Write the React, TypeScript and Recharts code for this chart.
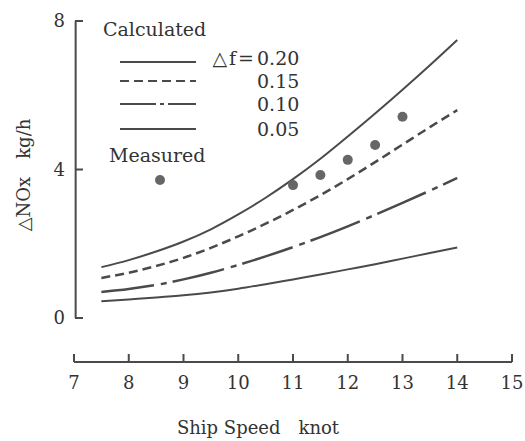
import React from 'react';
import {
  ComposedChart,
  Line,
  Scatter,
  XAxis,
  YAxis,
  ReferenceLine,
  Legend,
} from 'recharts';

const speeds = [7.5, 8, 8.5, 9, 9.5, 10, 10.5, 11, 11.5, 12, 12.5, 13, 13.5, 14];
const df020 = [1.37, 1.56, 1.79, 2.06, 2.39, 2.79, 3.24, 3.74, 4.29, 4.89, 5.51, 6.15, 6.81, 7.49];
const df015 = [1.08, 1.22, 1.4, 1.62, 1.89, 2.2, 2.54, 2.91, 3.31, 3.74, 4.2, 4.67, 5.14, 5.6];
const df010 = [0.7, 0.78, 0.89, 1.04, 1.22, 1.43, 1.66, 1.91, 2.18, 2.47, 2.78, 3.1, 3.43, 3.77];
const df005 = [0.45, 0.5, 0.55, 0.61, 0.69, 0.79, 0.91, 1.04, 1.17, 1.31, 1.45, 1.6, 1.75, 1.9];

const measuredSpeed = [11, 11.5, 12, 12.5, 13];
const measuredNox = [3.58, 3.85, 4.26, 4.66, 5.42];

const xTicks = [7, 8, 9, 10, 11, 12, 13, 14, 15];
const yTicks = [0, 4, 8];

const calcData = speeds.map((s, i) => ({
  x: s,
  f20: df020[i],
  f15: df015[i],
  f10: df010[i],
  f05: df005[i],
}));
const measuredData = measuredSpeed.map((s, i) => ({ x: s, y: measuredNox[i] }));

const INK = '#4a4a4a';
const TEXT = '#333';
const FONT = "'DejaVu Serif', 'Liberation Serif', serif";
const DASH15 = '9 5';
const DASH10 = '53 7 6 6';

const XTick = (props: any) => {
  const { x, y, payload } = props;
  return (
    <g>
      <line x1={x} y1={y} x2={x} y2={y - 8} stroke={INK} strokeWidth={2} />
      <text x={x} y={y + 27} textAnchor="middle" fontSize={18} fill={TEXT} style={{ fontFamily: FONT }}>
        {payload.value}
      </text>
    </g>
  );
};

const YTick = (props: any) => {
  const { x, y, payload } = props;
  return (
    <g>
      <line x1={x + 1} y1={y} x2={x + 9} y2={y} stroke={INK} strokeWidth={2} />
      <text x={x - 9} y={y} dy="0.35em" textAnchor="end" fontSize={18} fill={TEXT} style={{ fontFamily: FONT }}>
        {payload.value}
      </text>
    </g>
  );
};

const legendRows = [
  { label: '0.20', dash: undefined, y: 62 },
  { label: '0.15', dash: DASH15, y: 81 },
  { label: '0.10', dash: '36 4 4 4', y: 104 },
  { label: '0.05', dash: undefined, y: 129 },
];

const LegendBox = () => (
  <svg width={320} height={200} style={{ fontFamily: FONT }}>
    <text x={103} y={36} fontSize={19} fill={TEXT} style={{ fontFamily: FONT }}>Calculated</text>
    <text x={256} y={58} dy="0.35em" textAnchor="end" fontSize={19} letterSpacing={2} fill={TEXT} style={{ fontFamily: FONT }}>△f=</text>
    {legendRows.map((r) => (
      <g key={r.label}>
        <line x1={120} x2={196} y1={r.y} y2={r.y} stroke={INK} strokeWidth={2} strokeDasharray={r.dash} />
        <text x={257} y={r.y - (r.label === '0.20' ? 4 : 0)} dy="0.35em" fontSize={19} fill={TEXT} style={{ fontFamily: FONT }}>
          {r.label}
        </text>
      </g>
    ))}
    <text x={109} y={162} fontSize={19} fill={TEXT} style={{ fontFamily: FONT }}>Measured</text>
    <circle cx={160} cy={180} r={5} fill="#666" />
  </svg>
);

export default function App() {
  return (
    <div style={{ position: 'absolute', left: 0, top: 0, background: '#fff' }}>
      <ComposedChart
        width={525}
        height={441}
        margin={{ top: 21, right: 13, bottom: 0, left: 44 }}
      >
        <XAxis
          type="number"
          dataKey="x"
          domain={[7, 15]}
          ticks={xTicks}
          interval={0}
          height={79}
          tickSize={0}
          tickMargin={0}
          tickLine={false}
          axisLine={{ stroke: INK, strokeWidth: 2 }}
          tick={<XTick />}
          label={{
            content: () => (
              <text x={258} y={434} textAnchor="middle" fontSize={18} fill={TEXT} style={{ fontFamily: FONT, whiteSpace: 'pre' }}>
                Ship Speed　knot
              </text>
            ),
          }}
        />
        <YAxis
          type="number"
          domain={[-1.185, 8]}
          ticks={yTicks}
          width={30}
          tickSize={0}
          tickMargin={0}
          tickLine={false}
          axisLine={false}
          tick={<YTick />}
          label={{
            content: () => (
              <text
                x={24}
                y={175}
                transform="rotate(-90, 24, 175)"
                dy="0.35em"
                textAnchor="middle"
                fontSize={18}
                fill={TEXT}
                style={{ fontFamily: FONT }}
              >
                △NOx　kg/h
              </text>
            ),
          }}
        />
        <ReferenceLine
          segment={[{ x: 7.03, y: 0 }, { x: 7.03, y: 8 }]}
          stroke={INK}
          strokeWidth={2}
        />
        <Line data={calcData} dataKey="f20" type="monotone" stroke={INK} strokeWidth={2} dot={false} isAnimationActive={false} />
        <Line data={calcData} dataKey="f15" type="monotone" stroke={INK} strokeWidth={2.5} strokeDasharray={DASH15} dot={false} isAnimationActive={false} />
        <Line data={calcData} dataKey="f10" type="monotone" stroke={INK} strokeWidth={2.5} strokeDasharray={DASH10} dot={false} isAnimationActive={false} />
        <Line data={calcData} dataKey="f05" type="monotone" stroke={INK} strokeWidth={2} dot={false} isAnimationActive={false} />
        <Scatter
          data={measuredData}
          dataKey="y"
          fill="#666"
          isAnimationActive={false}
          shape={(p: any) => <circle cx={p.cx} cy={p.cy} r={5} fill="#666" />}
        />
        <Legend
          layout="vertical"
          align="center"
          verticalAlign="middle"
          wrapperStyle={{ left: 0, top: 0, width: 320, height: 200 }}
          content={() => <LegendBox />}
        />
      </ComposedChart>
    </div>
  );
}
